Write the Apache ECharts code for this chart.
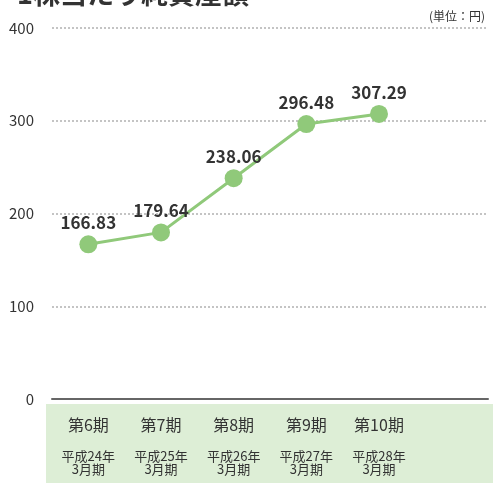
<!DOCTYPE html>
<html>
<head>
<meta charset="utf-8">
<script src="https://cdn.jsdelivr.net/npm/echarts@6/dist/echarts.min.js"></script>
<style>
  html, body { margin: 0; padding: 0; background: #fff; }
  #main { width: 493px; height: 484px; }
</style>
</head>
<body>
<div id="main"></div>
<script>
// 期
var periods = ['第6期', '第7期', '第8期', '第9期', '第10期', ''];
// 決算期
var fiscal = ['平成24年', '平成25年', '平成26年', '平成27年', '平成28年', ''];
// 1株当たり純資産額
var values = [166.83, 179.64, 238.06, 296.48, 307.29];
var yTicks = [0, 100, 200, 300, 400];

var font = '"Noto Sans CJK JP", "Noto Sans", sans-serif';
var myChart = echarts.init(document.getElementById('main'));

var option = {
    backgroundColor: '#fff',
    textStyle: { fontFamily: font },
    title: [{
        text: '1株当たり純資産額',
        left: 12,
        top: -25,
        textStyle: { fontSize: 27, fontWeight: 'bold', color: '#333', fontFamily: font }
    }, {
        text: '(単位：円)',
        right: 3,
        top: 5,
        textStyle: { fontSize: 12, fontWeight: 'normal', color: '#333', fontFamily: font }
    }],
    // 下の緑の帯
    graphic: [{
        type: 'rect',
        z: -10,
        shape: { x: 46, y: 404, width: 447, height: 79 },
        style: { fill: '#ddeed6' }
    }],
    grid: { left: 52, right: 5, top: 28, bottom: 85 },
    xAxis: {
        type: 'category',
        data: periods,
        axisLine: { lineStyle: { color: '#666', width: 2 } },
        axisTick: { show: false },
        axisLabel: {
            margin: 15,
            interval: 0,
            formatter: function (v, i) {
                if (!v) return '';
                return '{a|' + v + '}\n{g|}\n{b|' + fiscal[i] + '}\n{b|3月期}';
            },
            rich: {
                a: { fontSize: 16, lineHeight: 21, color: '#333', fontFamily: font },
                g: { lineHeight: 15 },
                b: { fontSize: 13, lineHeight: 13, color: '#333', fontFamily: font }
            }
        }
    },
    yAxis: {
        type: 'value',
        min: yTicks[0],
        max: yTicks[yTicks.length - 1],
        interval: 100,
        axisLine: { show: false },
        axisTick: { show: false },
        axisLabel: { margin: 18, fontSize: 15, color: '#333', fontFamily: font },
        splitLine: { lineStyle: { type: [2, 2], width: 2, color: '#c4c4c4' } }
    },
    series: [{
        type: 'line',
        data: values,
        symbol: 'circle',
        symbolSize: 18,
        lineStyle: { color: '#90c97a', width: 3 },
        itemStyle: { color: '#90c97a' },
        label: {
            show: true,
            position: 'top',
            distance: 4,
            fontSize: 17,
            fontWeight: 'bold',
            color: '#333',
            fontFamily: font,
            formatter: function (p) { return p.value.toFixed(2); }
        }
    }]
};

myChart.setOption(option);
</script>
</body>
</html>
